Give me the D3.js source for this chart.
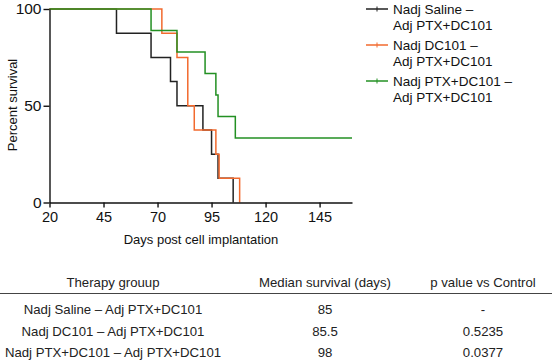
<!DOCTYPE html>
<html>
<head>
<meta charset="utf-8">
<script src="https://cdn.jsdelivr.net/npm/d3@7/dist/d3.min.js"></script>
<style>
  html, body { margin: 0; padding: 0; background: #fff; }
  svg { display: block; font-family: "Liberation Sans", Arial, Helvetica, sans-serif; }
</style>
</head>
<body>
<svg id="chart" width="552" height="360"></svg>
<script>
// ---- Data ----
const seriesNames = ["Nadj Saline – Adj PTX+DC101", "Nadj DC101 – Adj PTX+DC101", "Nadj PTX+DC101 – Adj PTX+DC101"];
const legendLine1 = ["Nadj Saline –", "Nadj DC101 –", "Nadj PTX+DC101 –"];
const legendLine2 = ["Adj PTX+DC101", "Adj PTX+DC101", "Adj PTX+DC101"];
const seriesColors = ["#222222", "#f26a2e", "#239023"];

const salineTimes    = [20, 51, 67, 76, 79, 91, 95, 98, 105];
const salineSurvival = [100, 87.5, 75, 62.5, 50, 37.5, 25, 12.5, 0];
const dc101Times     = [20, 72, 79, 84, 87, 97, 98.5, 108];
const dc101Survival  = [100, 87.5, 75, 50, 37.5, 25, 12.5, 0];
const ptxTimes       = [20, 67, 79, 92, 97, 98, 106, 160];
const ptxSurvival    = [100, 88.9, 77.8, 66.7, 55.6, 44.4, 33.3, 33.3];

const xTicks = [20, 45, 70, 95, 120, 145];
const yTicks = [0, 50, 100];

const tableHeaders = ["Therapy grouup", "Median survival (days)", "p value vs Control"];
const tableGroups  = ["Nadj Saline – Adj PTX+DC101", "Nadj DC101 – Adj PTX+DC101", "Nadj PTX+DC101 – Adj PTX+DC101"];
const tableMedians = ["85", "85.5", "98"];
const tablePvalues = ["-", "0.5235", "0.0377"];

// ---- Drawing ----
const svg = d3.select("#chart");
const x = d3.scaleLinear().domain([20, 160]).range([49.5, 352]);
const y = d3.scaleLinear().domain([0, 100]).range([202.5, 9]);

const series = [
  {t: salineTimes, s: salineSurvival},
  {t: dc101Times, s: dc101Survival},
  {t: ptxTimes, s: ptxSurvival}
];

const line = d3.line().x(d => x(d[0])).y(d => y(d[1])).curve(d3.curveStepAfter);

series.forEach((sr, i) => {
  const pts = sr.t.map((t, j) => [t, sr.s[j]]);
  svg.append("path")
    .attr("d", line(pts))
    .attr("fill", "none")
    .attr("stroke", seriesColors[i])
    .attr("stroke-width", 1.5);
});

// Axes
const xAxis = svg.append("g")
  .attr("transform", `translate(0,${y(0)})`)
  .call(d3.axisBottom(x).tickValues(xTicks).tickSize(5).tickSizeOuter(0).tickPadding(4));
const yAxis = svg.append("g")
  .attr("transform", `translate(${x(20)},0)`)
  .call(d3.axisLeft(y).tickValues(yTicks).tickSize(6).tickSizeOuter(0).tickPadding(2));

[xAxis, yAxis].forEach(g => {
  g.select(".domain").attr("stroke", "#111").attr("stroke-width", 1.4);
  g.selectAll(".tick line").attr("stroke", "#111").attr("stroke-width", 1.4);
  g.selectAll(".tick text").attr("fill", "#111")
    .style("font-family", '"Liberation Sans", Arial, sans-serif');
});
xAxis.selectAll(".tick text").style("font-size", "14.5px");
yAxis.selectAll(".tick text").style("font-size", "15.5px");

svg.append("text")
  .attr("x", 201).attr("y", 243.5)
  .attr("text-anchor", "middle")
  .style("font-size", "13px").attr("fill", "#111")
  .text("Days post cell implantation");

svg.append("text")
  .attr("transform", "translate(16.5,105) rotate(-90)")
  .attr("text-anchor", "middle")
  .style("font-size", "13px").attr("fill", "#111")
  .text("Percent survival");

// Legend
const legendY = [9, 45, 81];
seriesNames.forEach((nm, i) => {
  const g = svg.append("g").attr("transform", `translate(366,${legendY[i]})`);
  g.append("line").attr("x1", 0).attr("x2", 22).attr("y1", 0).attr("y2", 0)
    .attr("stroke", seriesColors[i]).attr("stroke-width", 1.5);
  g.append("line").attr("x1", 11).attr("x2", 11).attr("y1", -2.5).attr("y2", 2.5)
    .attr("stroke", seriesColors[i]).attr("stroke-width", 1);
  g.append("text").attr("x", 27).attr("y", 4.8)
    .style("font-size", "13.5px").attr("fill", "#111").text(legendLine1[i]);
  g.append("text").attr("x", 27).attr("y", 20.8)
    .style("font-size", "13.5px").attr("fill", "#111").text(legendLine2[i]);
});

// Table
const colX = [113, 325, 483];
tableHeaders.forEach((h, i) => {
  svg.append("text").attr("x", colX[i]).attr("y", 286.5)
    .attr("text-anchor", "middle").style("font-size", "13.2px").attr("fill", "#222").text(h);
});
svg.append("line").attr("x1", 0).attr("x2", 552).attr("y1", 293.5).attr("y2", 293.5)
  .attr("stroke", "#444").attr("stroke-width", 1.2);
const rowY = [314, 335.5, 356.5];
tableGroups.forEach((g, j) => {
  [g, tableMedians[j], tablePvalues[j]].forEach((v, i) => {
    svg.append("text").attr("x", colX[i]).attr("y", rowY[j])
      .attr("text-anchor", "middle").style("font-size", "13.2px").attr("fill", "#222").text(v);
  });
});
</script>
</body>
</html>
